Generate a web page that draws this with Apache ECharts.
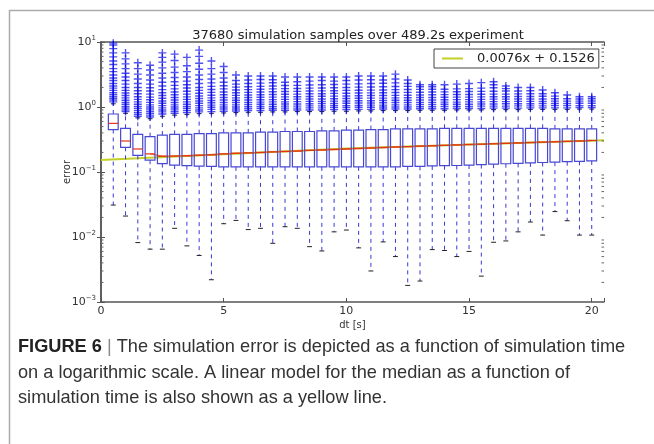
<!DOCTYPE html>
<html>
<head>
<meta charset="utf-8">
<script src="https://cdn.jsdelivr.net/npm/echarts@6/dist/echarts.min.js"></script>
<style>
html, body { margin: 0; padding: 0; background: #fff; }
#main { width: 654px; height: 444px; }
</style>
</head>
<body>
<div id="main"></div>
<script>
// box positions (dt, seconds)
const dt = [0.5, 1.0, 1.5, 2.0, 2.5, 3.0, 3.5, 4.0, 4.5, 5.0,
            5.5, 6.0, 6.5, 7.0, 7.5, 8.0, 8.5, 9.0, 9.5, 10.0,
            10.5, 11.0, 11.5, 12.0, 12.5, 13.0, 13.5, 14.0, 14.5, 15.0,
            15.5, 16.0, 16.5, 17.0, 17.5, 18.0, 18.5, 19.0, 19.5, 20.0];

const whiskerLow = [0.031, 0.021, 0.0082, 0.0065, 0.0065, 0.0136, 0.0073, 0.0052, 0.0022, 0.016,
                    0.018, 0.013, 0.0136, 0.008, 0.0144, 0.0136, 0.0071, 0.0061, 0.012, 0.0128,
                    0.0068, 0.003, 0.0084, 0.005, 0.0018, 0.0021, 0.0064, 0.0062, 0.005, 0.006,
                    0.0025, 0.0083, 0.0087, 0.012, 0.017, 0.0107, 0.0246, 0.0178, 0.0107, 0.0107];
const q1 = [0.45, 0.24, 0.18, 0.152, 0.135, 0.128, 0.125, 0.123, 0.122, 0.12,
            0.12, 0.12, 0.12, 0.12, 0.12, 0.12, 0.12, 0.12, 0.12, 0.12,
            0.12, 0.12, 0.12, 0.12, 0.122, 0.122, 0.124, 0.125, 0.126, 0.128,
            0.13, 0.132, 0.134, 0.136, 0.138, 0.14, 0.142, 0.144, 0.146, 0.148];
const medians = [0.56, 0.30, 0.226, 0.19, 0.175, 0.176, 0.178, 0.181, 0.184, 0.19,
                 0.194, 0.197, 0.20, 0.204, 0.207, 0.21, 0.215, 0.218, 0.222, 0.226,
                 0.23, 0.234, 0.238, 0.242, 0.246, 0.25, 0.253, 0.257, 0.261, 0.265,
                 0.268, 0.272, 0.276, 0.28, 0.284, 0.288, 0.292, 0.296, 0.30, 0.305];
const q3 = [0.78, 0.47, 0.38, 0.35, 0.37, 0.38, 0.38, 0.39, 0.39, 0.40,
            0.40, 0.40, 0.41, 0.41, 0.42, 0.42, 0.42, 0.43, 0.43, 0.44,
            0.44, 0.45, 0.45, 0.46, 0.46, 0.46, 0.46, 0.47, 0.47, 0.47,
            0.47, 0.47, 0.47, 0.47, 0.47, 0.47, 0.46, 0.46, 0.46, 0.46];
const whiskerHigh = [1.12, 0.8, 0.68, 0.66, 0.72, 0.75, 0.77, 0.79, 0.8, 0.81,
                     0.82, 0.83, 0.83, 0.84, 0.84, 0.85, 0.85, 0.85, 0.86, 0.86,
                     0.87, 0.87, 0.88, 0.88, 0.88, 0.89, 0.89, 0.89, 0.9, 0.9,
                     0.9, 0.91, 0.91, 0.91, 0.92, 0.92, 0.92, 0.92, 0.93, 0.93];

// fliers above the upper whisker, one list per box
const outliers = [
  [1.2, 1.28, 1.36, 1.45, 1.55, 1.66, 1.8, 1.95, 2.1, 2.3, 2.55, 2.8, 3.1, 3.5, 3.9, 4.5, 5.1, 5.9, 6.8, 7.9, 9.0, 9.6],
  [0.85, 0.9, 0.96, 1.02, 1.1, 1.18, 1.27, 1.38, 1.5, 1.64, 1.8, 2.0, 2.25, 2.55, 2.9, 3.3, 3.9, 4.6, 5.5, 6.8],
  [0.72, 0.77, 0.82, 0.88, 0.95, 1.02, 1.1, 1.2, 1.31, 1.44, 1.6, 1.78, 2.0, 2.3, 2.7, 3.2, 3.9, 4.8],
  [0.7, 0.75, 0.8, 0.86, 0.93, 1.0, 1.08, 1.18, 1.29, 1.42, 1.58, 1.76, 1.98, 2.25, 2.6, 3.1, 3.7, 4.4],
  [0.78, 0.84, 0.9, 0.97, 1.05, 1.14, 1.24, 1.36, 1.5, 1.66, 1.85, 2.1, 2.4, 2.8, 3.3, 4.0, 4.9, 5.8, 6.8],
  [0.8, 0.86, 0.93, 1.0, 1.08, 1.17, 1.28, 1.4, 1.54, 1.7, 1.9, 2.15, 2.45, 2.85, 3.4, 4.1, 5.2, 6.5],
  [0.82, 0.88, 0.95, 1.02, 1.1, 1.2, 1.31, 1.43, 1.58, 1.75, 1.96, 2.2, 2.5, 2.9, 3.5, 4.3, 5.8],
  [0.84, 0.9, 0.97, 1.05, 1.14, 1.24, 1.35, 1.48, 1.63, 1.8, 2.0, 2.3, 2.65, 3.1, 3.8, 4.7, 6.0, 7.5],
  [0.85, 0.92, 0.99, 1.07, 1.16, 1.26, 1.38, 1.52, 1.68, 1.86, 2.08, 2.35, 2.7, 3.2, 3.9, 5.1],
  [0.86, 0.93, 1.0, 1.08, 1.17, 1.28, 1.4, 1.54, 1.7, 1.9, 2.12, 2.4, 2.8, 3.4, 4.2],
  [0.87, 0.93, 1.0, 1.08, 1.17, 1.27, 1.38, 1.51, 1.66, 1.83, 2.02, 2.25, 2.55, 3.1],
  [0.88, 0.94, 1.01, 1.09, 1.18, 1.28, 1.4, 1.53, 1.68, 1.85, 2.05, 2.3, 2.6, 3.0],
  [0.88, 0.95, 1.02, 1.1, 1.19, 1.29, 1.41, 1.54, 1.7, 1.88, 2.08, 2.33, 2.65, 3.0],
  [0.89, 0.95, 1.02, 1.1, 1.2, 1.3, 1.42, 1.56, 1.72, 1.9, 2.1, 2.36, 2.62, 3.0],
  [0.89, 0.96, 1.03, 1.11, 1.2, 1.31, 1.43, 1.57, 1.73, 1.92, 2.14, 2.4, 2.9],
  [0.9, 0.96, 1.03, 1.11, 1.21, 1.32, 1.44, 1.58, 1.74, 1.93, 2.15, 2.45, 2.9],
  [0.9, 0.97, 1.04, 1.12, 1.22, 1.33, 1.45, 1.6, 1.76, 1.95, 2.18, 2.5, 2.9],
  [0.9, 0.97, 1.04, 1.13, 1.22, 1.33, 1.46, 1.6, 1.77, 1.96, 2.2, 2.55, 2.9],
  [0.91, 0.98, 1.05, 1.13, 1.23, 1.34, 1.47, 1.62, 1.78, 1.98, 2.22, 2.5, 2.9],
  [0.91, 0.98, 1.05, 1.14, 1.24, 1.35, 1.48, 1.63, 1.8, 2.0, 2.25, 2.55, 2.9],
  [0.92, 0.99, 1.06, 1.15, 1.25, 1.36, 1.49, 1.64, 1.81, 2.02, 2.27, 2.6, 3.0],
  [0.92, 0.99, 1.07, 1.15, 1.25, 1.37, 1.5, 1.65, 1.82, 2.03, 2.3, 2.62, 3.0],
  [0.93, 1.0, 1.07, 1.16, 1.26, 1.37, 1.5, 1.66, 1.83, 2.05, 2.32, 2.6, 3.0],
  [0.93, 1.0, 1.08, 1.17, 1.27, 1.38, 1.51, 1.67, 1.85, 2.07, 2.35, 2.7, 3.2],
  [0.93, 1.0, 1.08, 1.17, 1.27, 1.39, 1.52, 1.68, 1.86, 2.08, 2.3, 2.6],
  [0.94, 1.01, 1.09, 1.18, 1.28, 1.4, 1.53, 1.69, 1.87, 2.05, 2.2],
  [0.94, 1.01, 1.09, 1.18, 1.28, 1.4, 1.54, 1.7, 1.88, 2.05, 2.2],
  [0.94, 1.02, 1.1, 1.19, 1.29, 1.41, 1.55, 1.71, 1.88, 2.2],
  [0.95, 1.02, 1.1, 1.19, 1.3, 1.42, 1.56, 1.72, 1.9, 2.25],
  [0.95, 1.02, 1.1, 1.2, 1.3, 1.42, 1.56, 1.73, 1.92, 2.3],
  [0.95, 1.03, 1.11, 1.2, 1.31, 1.43, 1.57, 1.74, 1.95, 2.37],
  [0.96, 1.03, 1.11, 1.21, 1.32, 1.44, 1.58, 1.75, 1.98, 2.2, 2.45],
  [0.96, 1.03, 1.12, 1.21, 1.32, 1.44, 1.58, 1.76, 1.92, 2.1],
  [0.96, 1.04, 1.12, 1.22, 1.33, 1.45, 1.59, 1.76, 2.0],
  [0.97, 1.04, 1.12, 1.22, 1.33, 1.45, 1.6, 1.78, 2.0],
  [0.97, 1.04, 1.13, 1.22, 1.33, 1.46, 1.6, 1.83],
  [0.97, 1.05, 1.13, 1.23, 1.34, 1.47, 1.66],
  [0.97, 1.05, 1.13, 1.23, 1.34, 1.53],
  [0.98, 1.05, 1.14, 1.23, 1.33, 1.44],
  [0.98, 1.05, 1.14, 1.24, 1.34, 1.44]
];

// linear model of the median, read at a few points
const fitX = [0, 10, 20.5];
const fitY = [0.153, 0.229, 0.308];
const fitName = '0.0076x + 0.1526';

// log axis minor tick values
const minorTicks = [];
[0.001, 0.01, 0.1, 1].forEach(function (d) {
  for (let k = 2; k <= 9; k++) minorTicks.push(+(k * d).toPrecision(3));
});

const chart = echarts.init(document.getElementById('main'), null, { renderer: 'canvas' });

const boxData = dt.map(function (x, i) {
  return [x, whiskerLow[i], q1[i], medians[i], q3[i], whiskerHigh[i]];
});
const flierData = [];
outliers.forEach(function (list, i) {
  list.forEach(function (v) { flierData.push([dt[i], v]); });
});
const medianLine = dt.map(function (x, i) { return [x, medians[i]]; }).slice(3);

function renderBox(params, api) {
  const x = api.value(0);
  const pLo = api.coord([x, api.value(1)]);
  const pQ1 = api.coord([x, api.value(2)]);
  const pMed = api.coord([x, api.value(3)]);
  const pQ3 = api.coord([x, api.value(4)]);
  const pHi = api.coord([x, api.value(5)]);
  const w = api.coord([x + 0.2, 1])[0] - api.coord([x - 0.2, 1])[0];
  const cx = pMed[0];
  const dash = { stroke: '#3a3ad6', lineWidth: 1, lineDash: [4, 4] };
  const cap = { stroke: '#222', lineWidth: 1 };
  return {
    type: 'group',
    children: [
      { type: 'line', shape: { x1: cx, y1: pQ1[1], x2: cx, y2: pLo[1] }, style: dash },
      { type: 'line', shape: { x1: cx, y1: pQ3[1], x2: cx, y2: pHi[1] }, style: dash },
      { type: 'line', shape: { x1: cx - w / 4, y1: pLo[1], x2: cx + w / 4, y2: pLo[1] }, style: cap },
      { type: 'line', shape: { x1: cx - w / 4, y1: pHi[1], x2: cx + w / 4, y2: pHi[1] }, style: cap },
      { type: 'rect', shape: { x: cx - w / 2, y: pQ3[1], width: w, height: pQ1[1] - pQ3[1] },
        style: { fill: 'none', stroke: '#4848d4', lineWidth: 1.2 } },
      { type: 'line', shape: { x1: cx - w / 2, y1: pMed[1], x2: cx + w / 2, y2: pMed[1] },
        style: { stroke: '#e2321a', lineWidth: 1.2 } }
    ]
  };
}

function renderMinor(params, api) {
  const v = api.value(0);
  const l = api.coord([0, v]);
  const r = api.coord([20.5, v]);
  const st = { stroke: '#666', lineWidth: 1 };
  return {
    type: 'group',
    children: [
      { type: 'line', shape: { x1: l[0], y1: l[1], x2: l[0] + 2.5, y2: l[1] }, style: st },
      { type: 'line', shape: { x1: r[0], y1: r[1], x2: r[0] - 2.5, y2: r[1] }, style: st }
    ]
  };
}

const axisColor = '#555';
const tickFont = { fontFamily: 'DejaVu Sans', fontSize: 11, color: '#333' };

function powLabel(v) {
  const e = Math.round(Math.log10(v));
  return '{b|10}{s|' + (e < 0 ? '\u2212' + (-e) : e) + '}';
}

let option;

option = {
  animation: false,
  backgroundColor: '#fff',
  title: {
    text: '37680 simulation samples over 489.2s experiment',
    left: 353,
    top: 24,
    textAlign: 'center',
    textStyle: { fontFamily: 'DejaVu Sans', fontSize: 13, fontWeight: 'normal', color: '#222' }
  },
  legend: {
    data: [{ name: fitName, icon: 'rect' }],
    left: 434,
    top: 49,
    itemWidth: 21,
    itemHeight: 2,
    padding: [3, 4, 3, 8],
    borderColor: '#444',
    borderWidth: 1,
    borderRadius: 0,
    backgroundColor: '#fff',
    textStyle: { fontFamily: 'DejaVu Sans', fontSize: 13, color: '#222', padding: [0, 0, 0, 9] }
  },
  grid: { left: 101, top: 42, width: 503, height: 260, containLabel: false },
  xAxis: [{
    type: 'value',
    min: 0,
    max: 20.5,
    interval: 5,
    name: 'dt [s]',
    nameLocation: 'middle',
    nameGap: 18,
    nameMoveOverlap: false,
    nameTextStyle: { fontFamily: 'DejaVu Sans', fontSize: 10, color: '#333' },
    axisLine: { lineStyle: { color: axisColor, width: 1.5 } },
    axisTick: { inside: true, length: 4, lineStyle: { color: axisColor } },
    axisLabel: {
      margin: 4,
      ...tickFont,
      formatter: function (v) { return v % 5 === 0 ? String(v) : ''; }
    },
    splitLine: { show: false }
  }, {
    type: 'value',
    position: 'top',
    min: 0,
    max: 20.5,
    interval: 5,
    axisLine: { lineStyle: { color: axisColor, width: 1.5 } },
    axisTick: { inside: true, length: 4, lineStyle: { color: axisColor } },
    axisLabel: { show: false },
    splitLine: { show: false }
  }],
  yAxis: [{
    type: 'log',
    logBase: 10,
    min: 0.001,
    max: 10,
    name: 'error',
    nameLocation: 'middle',
    nameGap: 29,
    nameRotate: 90,
    nameMoveOverlap: false,
    nameTextStyle: { fontFamily: 'DejaVu Sans', fontSize: 10, color: '#333' },
    axisLine: { lineStyle: { color: axisColor, width: 1.5 } },
    axisTick: { inside: true, length: 4, lineStyle: { color: axisColor } },
    axisLabel: {
      margin: 5,
      formatter: powLabel,
      rich: {
        b: { fontFamily: 'DejaVu Sans', fontSize: 11, color: '#333' },
        s: { fontFamily: 'DejaVu Sans', fontSize: 7, color: '#333', padding: [0, 0, 8, 0] }
      }
    },
    splitLine: { show: false }
  }, {
    type: 'log',
    logBase: 10,
    min: 0.001,
    max: 10,
    position: 'right',
    axisLine: { lineStyle: { color: axisColor, width: 1.5 } },
    axisTick: { inside: true, length: 4, lineStyle: { color: axisColor } },
    axisLabel: { show: false },
    splitLine: { show: false }
  }],
  series: [
    {
      name: fitName,
      type: 'line',
      data: fitX.map(function (x, i) { return [x, fitY[i]]; }),
      symbol: 'none',
      color: '#c3d025',
      lineStyle: { color: '#c3d025', width: 2 },
      z: 3
    },
    {
      name: 'median trend',
      type: 'line',
      data: medianLine,
      symbol: 'none',
      lineStyle: { color: '#ea6a14', width: 1.4, opacity: 0.85 },
      z: 4
    },
    {
      name: 'boxes',
      type: 'custom',
      renderItem: renderBox,
      data: boxData,
      encode: { x: 0, y: [1, 2, 3, 4, 5] },
      z: 5
    },
    {
      name: 'fliers',
      type: 'scatter',
      data: flierData,
      symbol: 'path://M0,5L10,5M5,0L5,10',
      symbolSize: 8,
      itemStyle: { color: 'none', borderColor: 'rgba(0,0,235,0.85)', borderWidth: 1.4 },
      z: 6
    },
    {
      name: 'minor ticks',
      type: 'custom',
      renderItem: renderMinor,
      data: minorTicks.map(function (v) { return [v]; }),
      encode: { y: 0 },
      z: 7,
      silent: true
    }
  ],
  graphic: [
    { type: 'line', shape: { x1: 9, y1: 10.5, x2: 654, y2: 10.5 }, style: { stroke: '#aaa', lineWidth: 1.5 } },
    { type: 'line', shape: { x1: 9.5, y1: 10, x2: 9.5, y2: 444 }, style: { stroke: '#aaa', lineWidth: 1.5 } },
    {
      type: 'text', x: 18, y: 347,
      style: {
        text: '{b|FIGURE 6} {p||} The simulation error is depicted as a function of simulation time',
        font: '18.2px "Liberation Sans"',
        fill: '#333',
        verticalAlign: 'middle',
        rich: {
          b: { fontFamily: 'Liberation Sans', fontSize: 18.2, fontWeight: 'bold', fill: '#222' },
          p: { fontFamily: 'Liberation Sans', fontSize: 18.2, fill: '#888' }
        }
      }
    },
    {
      type: 'text', x: 18, y: 373,
      style: { text: 'on a logarithmic scale. A linear model for the median as a function of',
               font: '18.2px "Liberation Sans"', fill: '#333', verticalAlign: 'middle' }
    },
    {
      type: 'text', x: 18, y: 398,
      style: { text: 'simulation time is also shown as a yellow line.',
               font: '18.2px "Liberation Sans"', fill: '#333', verticalAlign: 'middle' }
    }
  ]
};

window.addEventListener('resize', function () {
  chart.resize();
});

option && chart.setOption(option);
</script>
</body>
</html>
